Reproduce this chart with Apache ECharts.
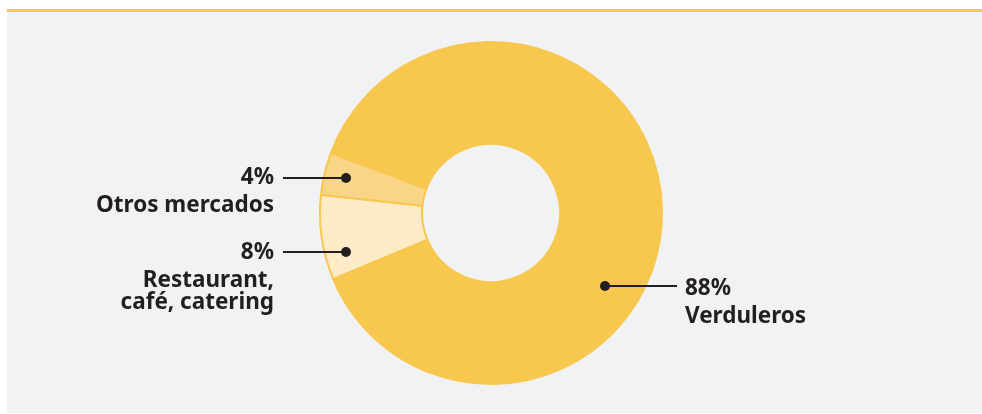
<!DOCTYPE html>
<html>
<head>
<meta charset="utf-8">
<script src="https://cdn.jsdelivr.net/npm/echarts@6/dist/echarts.min.js"></script>
<style>
  html, body { margin: 0; padding: 0; background: #ffffff; }
  #panel { position: absolute; left: 7px; top: 9px; width: 975px; height: 404px;
           background: #f1f2f4; border-top: 3px solid #fbc84c; box-sizing: border-box; }
  #chart { position: absolute; left: 0; top: 0; width: 982px; height: 414px; }
</style>
</head>
<body>
<div id="panel"></div>
<div id="chart"></div>
<script>
// Sales channels, share of volume (%)
const categories = ['Verduleros', 'Restaurant,\ncafé, catering', 'Otros mercados'];
const shares = [88, 8, 4];
const sliceColors = ['#f8c74e', '#fcebc6', '#f9d587'];

// Donut geometry (px)
const CX = 491, CY = 213, R_IN = 69, R_OUT = 171;
// Anchor of each leader line inside its slice, relative to the donut centre,
// the side the text block sits on, and a small vertical nudge for the text.
const anchors = [
  { dx: 114, dy: 73, side: 'right', lineLen: 72, textDy: 0 },
  { dx: -145, dy: 39, side: 'left', lineLen: 63, textDy: -2.5 },
  { dx: -145, dy: -35, side: 'left', lineLen: 63, textDy: -3.5 }
];
const INK = '#231f20';
const VALUE_LH = 34, NAME_LH = 22;

const chart = echarts.init(document.getElementById('chart'), null, { renderer: 'canvas' });

const font = { fontFamily: 'Noto Sans', fontWeight: 'bold', fontSize: 22.5, color: INK };

chart.setOption({
  backgroundColor: 'transparent',
  animation: false,
  series: [{
    type: 'pie',
    center: [CX, CY],
    radius: [R_IN, R_OUT],
    startAngle: 159.5,
    clockwise: true,
    itemStyle: { borderColor: '#f8c74e', borderWidth: 2 },
    label: {
      show: true,
      position: 'outside',
      formatter: p => '{v|' + p.value + '%}\n' +
        p.name.split('\n').map(s => '{n|' + s + '}').join('\n'),
      ...font,
      rich: {
        v: { ...font, lineHeight: VALUE_LH },
        n: { ...font, lineHeight: NAME_LH }
      }
    },
    labelLine: { show: false },
    labelLayout: function (params) {
      const a = anchors[params.dataIndex];
      const ax = CX + a.dx, ay = CY + a.dy;
      const ex = a.side === 'left' ? ax - a.lineLen : ax + a.lineLen;
      return {
        x: a.side === 'left' ? ex - 9 : ex + 8,
        y: ay + a.textDy - VALUE_LH / 2 + 3,
        align: a.side === 'left' ? 'right' : 'left',
        verticalAlign: 'top'
      };
    },
    emphasis: { disabled: true },
    data: categories.map((name, i) => ({
      name: name,
      value: shares[i],
      itemStyle: { color: sliceColors[i] }
    }))
  }],
  // leader lines with a dot at the slice end
  graphic: anchors.flatMap(a => {
    const ax = CX + a.dx, ay = CY + a.dy;
    const ex = a.side === 'left' ? ax - a.lineLen : ax + a.lineLen;
    return [
      { type: 'line', shape: { x1: ax, y1: ay, x2: ex, y2: ay },
        style: { stroke: INK, lineWidth: 2 }, z: 100 },
      { type: 'circle', shape: { cx: ax, cy: ay, r: 5 },
        style: { fill: INK }, z: 101 }
    ];
  })
});
</script>
</body>
</html>
